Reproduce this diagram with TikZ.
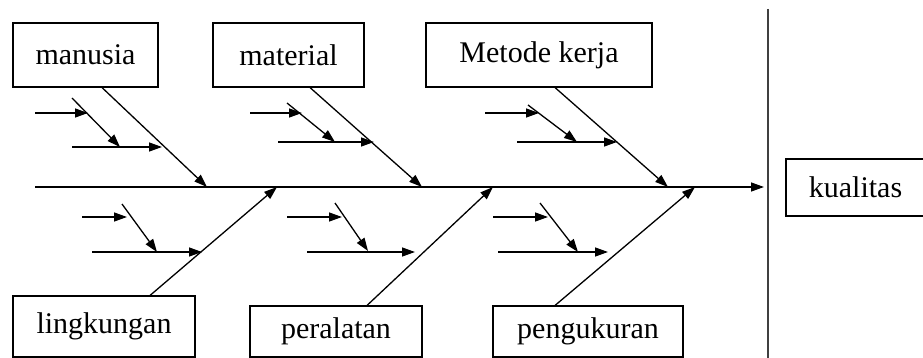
\documentclass[tikz,border=0pt]{standalone}
\usepackage{fontspec}
\setmainfont{Liberation Serif}
\usetikzlibrary{arrows.meta}
\begin{document}
\begin{tikzpicture}[x=1pt,y=-1pt,line width=1.3pt,
    every node/.style={draw,line width=1.1pt,inner sep=0pt,font=\fontsize{30}{36}\selectfont}]
    \tikzstyle{bone}=[-{Triangle[length=13pt,width=9pt]}]
    \useasboundingbox (0,0) rectangle (923,358);
    % kotak sebab dan akibat
    \node[minimum width=145pt,minimum height=64pt] (manusia) at (85.5,55) {manusia};
    \node[minimum width=151pt,minimum height=64pt] (material) at (288.5,55) {material};
    \node[minimum width=226pt,minimum height=64pt] (metode) at (539,55) {Metode kerja\hspace{24pt}};
    \node[minimum width=182pt,minimum height=61pt] (lingkungan) at (104,326.5) {lingkungan};
    \node[minimum width=172pt,minimum height=51pt] (peralatan) at (336,331.5) {peralatan\hspace{18pt}};
    \node[minimum width=190pt,minimum height=51pt] (pengukuran) at (588,331.5) {pengukuran};
    \node[minimum width=139pt,minimum height=57pt] (kualitas) at (855.5,187.5) {kualitas};
    % tulang utama dan batas
    \coordinate (ekor) at (35,187);
    \coordinate (kepala) at (764,187);
    \coordinate (batasatas) at (768,9);
    \coordinate (batasbawah) at (768,358);
    \draw[bone] (ekor) -- (kepala);
    \draw[line width=1.6pt,black!75] (batasatas) -- (batasbawah);
    % tulang sebab
    \coordinate (t1) at (207,187);
    \coordinate (t2) at (422,187);
    \coordinate (t3) at (668,187);
    \coordinate (t4) at (277,187);
    \coordinate (t5) at (493,187);
    \coordinate (t6) at (695,187);
    \draw[bone] ([xshift=16.5pt]manusia.south) -- (t1);
    \draw[bone] ([xshift=21.5pt]material.south) -- (t2);
    \draw[bone] ([xshift=16pt]metode.south) -- (t3);
    \draw[bone] ([xshift=46pt]lingkungan.north) -- (t4);
    \draw[bone] ([xshift=31pt]peralatan.north) -- (t5);
    \draw[bone] ([xshift=-33pt]pengukuran.north) -- (t6);
    % tulang kecil
    \foreach \n/\ha/\hb/\hy/\dax/\day/\dbx/\dby/\hc/\hd/\hz in {
        manusia/35/88/113/72/98/120/147/72/162/147,
        material/250/302/113/287/103/335/142/278/374/142,
        metode/485/539/113/528/105/577/142/517/617/142,
        lingkungan/82/127/217/122/204/157/252/92/202/252,
        peralatan/287/342/217/335/203/368/251/307/415/252,
        pengukuran/493/548/217/540/203/578/252/498/608/252} {
        \coordinate (\n-a) at (\ha,\hy);
        \coordinate (\n-b) at (\hb,\hy);
        \coordinate (\n-c) at (\dax,\day);
        \coordinate (\n-d) at (\dbx,\dby);
        \coordinate (\n-e) at (\hc,\hz);
        \coordinate (\n-f) at (\hd,\hz);
        \draw[bone] (\n-a) -- (\n-b);
        \draw[bone] (\n-c) -- (\n-d);
        \draw[bone] (\n-e) -- (\n-f);
    }
\end{tikzpicture}
\end{document}
